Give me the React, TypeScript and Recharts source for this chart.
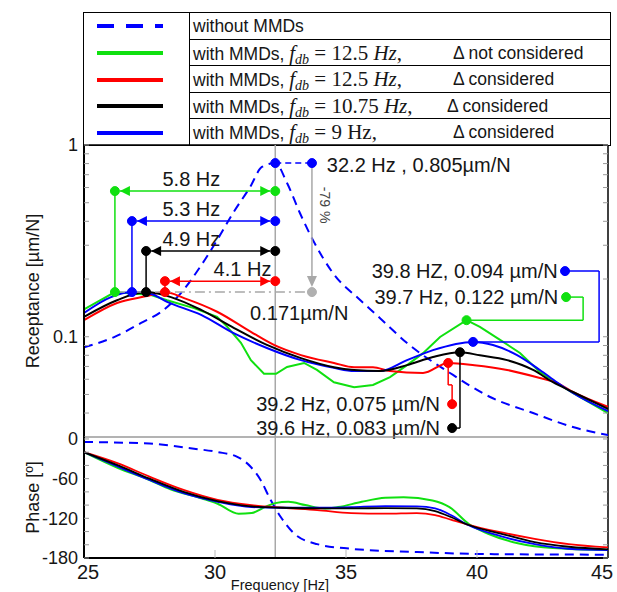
import {
  LineChart,
  Line,
  XAxis,
  YAxis,
  ReferenceLine,
  ReferenceDot,
} from "recharts";

const SANS = "'Liberation Sans', Arial, Helvetica, sans-serif";
const SERIF = "'Liberation Serif', 'Times New Roman', serif";

const BLUE = "#0000ff";
const GREEN = "#10e010";
const RED = "#ff0000";
const BLACK = "#000000";
const GREY = "#a8a8a8";
const INK = "#161616";

// ---- receptance [µm/N] vs frequency [Hz] ----
const recNoneF = [25, 26.15, 27.18, 27.98, 28.7, 29.43, 30.08, 30.69, 31.34, 31.79, 32.3, 32.75, 33.24, 33.74, 34.5, 35.55, 36.3, 37.33, 38.97, 40.5, 42.14, 43.66, 45];
const recNone = [0.088, 0.0996, 0.118, 0.136, 0.169, 0.231, 0.319, 0.442, 0.604, 0.768, 0.805, 0.634, 0.442, 0.319, 0.215, 0.155, 0.125, 0.0927, 0.0647, 0.0485, 0.04, 0.0338, 0.0307];

const recGreenF = [25, 26.18, 27.56, 28.17, 29.2, 30.08, 30.46, 30.99, 31.37, 31.87, 32.33, 32.75, 33.4, 33.89, 34.54, 35.31, 36.03, 36.68, 37.33, 37.94, 38.59, 39.6, 40.11, 40.88, 41.64, 42.4, 43.05, 43.66, 45];
const recGreen = [0.139, 0.171, 0.165, 0.155, 0.141, 0.127, 0.113, 0.0929, 0.0755, 0.0641, 0.0641, 0.0696, 0.073, 0.0671, 0.0579, 0.0546, 0.056, 0.0616, 0.0711, 0.0821, 0.0997, 0.122, 0.1125, 0.0963, 0.0823, 0.0655, 0.0574, 0.0509, 0.04];

const recRedF = [25, 26.26, 27.4, 28.09, 28.82, 30.08, 31.37, 32.25, 33.28, 34.54, 35.31, 36.03, 36.68, 37.94, 38.9, 39.9, 41.15, 42.4, 43.05, 43.66, 45];
const recRed = [0.122, 0.15, 0.163, 0.171, 0.159, 0.135, 0.106, 0.0906, 0.0802, 0.073, 0.0694, 0.0694, 0.0662, 0.0647, 0.073, 0.0711, 0.0671, 0.0609, 0.0574, 0.0515, 0.0431];

const recBlackF = [25, 26.26, 27.37, 28.32, 29.47, 30.73, 31.98, 33.28, 34.54, 35.31, 36.3, 37.33, 38.32, 39.35, 40.11, 41.15, 42.14, 42.9, 43.66, 45];
const recBlack = [0.127, 0.155, 0.171, 0.161, 0.138, 0.111, 0.0906, 0.0774, 0.0694, 0.0671, 0.0662, 0.0711, 0.0784, 0.083, 0.08, 0.0755, 0.0671, 0.0579, 0.0515, 0.0421];

const recBlueF = [25, 26.03, 26.83, 27.56, 28.17, 29.47, 30.73, 31.98, 33.28, 34.54, 35.31, 36.3, 37.33, 38.32, 39.85, 40.61, 41.53, 42.4, 43.05, 43.66, 45];
const recBlue = [0.133, 0.161, 0.171, 0.167, 0.152, 0.13, 0.104, 0.0874, 0.0755, 0.0688, 0.0662, 0.0662, 0.0755, 0.0852, 0.094, 0.0906, 0.0802, 0.0671, 0.0579, 0.0509, 0.041];

// ---- phase [deg] vs frequency [Hz] ----
const phNoneF = [25, 27.5, 29.2, 30.1, 30.85, 31.36, 31.74, 32.12, 32.51, 33.02, 33.9, 35.18, 37.72, 40.27, 45];
const phNone = [-4.5, -7, -14.7, -19.7, -27, -42, -62, -92, -118, -143, -159, -166, -171, -174, -175];

const phF = [25, 26.3, 27.5, 28.8, 30.1, 31.4, 32.6, 33.9, 35.2, 36.5, 37.7, 38.4, 39.0, 39.6, 40.9, 42.2, 43.5, 45];
const phRed = [-20, -37, -57, -77, -92, -100, -104, -107.5, -112, -113, -112, -115, -122, -129, -141, -151, -159, -164];
const phBlack = [-20, -40, -60, -80, -94, -102, -104, -105, -105, -104.5, -105, -109, -118, -129, -143, -156, -163, -167];
const phBlue = [-20, -42, -62, -82, -95, -103, -104, -104, -103, -101.5, -102, -105, -115, -129, -147, -159, -166, -168];

const phGreenF = [25, 26.3, 27.5, 28.3, 29.5, 30.1, 30.9, 31.4, 31.9, 32.3, 32.8, 33.45, 34.2, 34.7, 35.6, 36.5, 37.2, 38.3, 38.95, 39.7, 40.4, 41.6, 42.9, 45];
const phGreen = [-20, -44, -62, -76, -90, -98, -113, -112, -103, -97, -95, -100, -105, -103, -95, -89, -88, -93, -103, -129, -143, -158, -165, -168];

// ---- annotations ----
const resFreq = 32.3;
const resPeak = 0.805;
const resNoteF = 33.7;
const peakRec = 0.171;
const shiftFreqs = [26.18, 26.83, 27.37, 28.09]; // green, blue, black, red
const shiftLevels = [0.575, 0.401, 0.28, 0.195];
const shiftLabels = ["5.8 Hz", "5.3 Hz", "4.9 Hz", "4.1 Hz"];
const shiftLabelF = [29.1, 29.1, 29.1, 31.05];
const shiftColors = [GREEN, BLUE, BLACK, RED];

const logTicks = [0.04, 0.05, 0.06, 0.07, 0.08, 0.09, 0.1, 0.2, 0.3, 0.4, 0.5, 0.6, 0.7, 0.8, 0.9, 1];
const recLabels: Record<number, string> = { 0.1: "0.1", 1: "1" };
const phaseTicks = [-180, -160, -140, -120, -100, -80, -60, -40, -20, 0];
const phaseLabels: Record<number, string> = { 0: "0", [-60]: "-60", [-120]: "-120", [-180]: "-180" };
const freqTicks = [25, 30, 35, 40, 45];
const innerFreqTicks = [30, 35, 40];

const legendItems = [
  { color: BLUE, dashed: true },
  { color: GREEN, dashed: false },
  { color: RED, dashed: false },
  { color: BLACK, dashed: false },
  { color: BLUE, dashed: false },
];

const zip = (f: number[], v: number[]) => f.map((x, i) => ({ f: x, v: v[i] }));

const leftTick = (labels: Record<number, string>) => (p: any) => {
  const lab = labels[p.payload.value];
  return (
    <g>
      <line x1={p.x + 6} x2={p.x + 11} y1={p.y} y2={p.y} stroke="#9a9a9a" />
      {lab !== undefined && (
        <text x={p.x} y={p.y} dy="0.35em" textAnchor="end" fontSize={18} fontFamily={SANS} fill={INK}>
          {lab}
        </text>
      )}
    </g>
  );
};
const rightTick = (p: any) => <line x1={p.x - 5} x2={p.x} y1={p.y} y2={p.y} stroke="#9a9a9a" />;
const upTick = (p: any) => <line x1={p.x} x2={p.x} y1={p.y} y2={p.y - 8} stroke="#bbb" />;
const downTick = (p: any) => <line x1={p.x} x2={p.x} y1={p.y} y2={p.y + 8} stroke="#bbb" />;
const freqTick = (p: any) => {
  const v = p.payload.value;
  const shift = v === 25 ? 4 : v === 45 ? -6 : 0;
  return (
    <g>
      {v > 25 && v < 45 && <line x1={p.x} x2={p.x} y1={p.y} y2={p.y - 8} stroke="#bbb" />}
      <text x={p.x + shift} y={p.y + 7} dy="0.71em" textAnchor="middle" fontSize={20} fontFamily={SANS} fill={INK}>
        {v}
      </text>
    </g>
  );
};

const yTitle = (text: string) => (p: any) => {
  const vb = p.viewBox || { x: 0, y: 0, width: 84, height: 100 };
  const cx = vb.x + 33;
  const cy = vb.y + vb.height / 2;
  return (
    <text x={cx} y={cy} transform={`rotate(-90 ${cx} ${cy})`} textAnchor="middle" dominantBaseline="central" fontSize={18} fontFamily={SANS} fill={INK}>
      {text}
    </text>
  );
};
const xTitle = (p: any) => {
  const vb = p.viewBox || { x: 84, y: 0 };
  return (
    <text x={vb.x + 196} y={vb.y + 32} textAnchor="middle" fontSize={14.5} fontFamily={SANS} fill={INK}>
      Frequency [Hz]
    </text>
  );
};

const seg = (key: string, a: number[], b: number[], color: string, extra: any = {}) => (
  <ReferenceLine
    key={key}
    segment={[{ x: a[0], y: a[1] }, { x: b[0], y: b[1] }]}
    stroke={color}
    strokeWidth={1.5}
    ifOverflow="visible"
    {...extra}
  />
);
const dot = (key: string, f: number, v: number, color: string) => (
  <ReferenceDot key={key} x={f} y={v} r={4.5} fill={color} stroke={color} ifOverflow="visible" />
);
const note = (key: string, f: number, v: number, s: string, anchor = "start", size = 20, color = INK, rot = 0) => (
  <ReferenceDot
    key={key}
    x={f}
    y={v}
    r={0}
    ifOverflow="visible"
    shape={(p: any) => (
      <text
        x={p.cx}
        y={p.cy}
        dy="0.35em"
        textAnchor={anchor}
        fontSize={size}
        fontFamily={SANS}
        fill={color}
        transform={rot ? `rotate(${rot} ${p.cx} ${p.cy})` : undefined}
      >
        {s}
      </text>
    )}
  />
);
const dblArrow = (color: string) => (p: any) => {
  const a = Math.min(p.x1, p.x2) + 5;
  const b = Math.max(p.x1, p.x2) - 5;
  const y = p.y1;
  return (
    <g>
      <line x1={a} y1={y} x2={b} y2={y} stroke={color} strokeWidth={1.5} />
      <path d={`M${a},${y} l10,-5 l0,10 z`} fill={color} />
      <path d={`M${b},${y} l-10,-5 l0,10 z`} fill={color} />
    </g>
  );
};
const downArrow = (color: string) => (p: any) => {
  const top = Math.min(p.y1, p.y2);
  const bot = Math.max(p.y1, p.y2) - 5;
  return (
    <g>
      <line x1={p.x1} x2={p.x1} y1={top} y2={bot - 8} stroke={color} strokeWidth={1.5} />
      <path d={`M${p.x1},${bot} l-5,-11 l10,0 z`} fill={color} />
    </g>
  );
};

function Fdb() {
  return (
    <span style={{ fontFamily: SERIF, fontStyle: "italic", fontSize: 21 }}>
      f<span style={{ fontSize: 14, position: "relative", top: 4 }}>db</span>
    </span>
  );
}

function Legend() {
  const rowH = 133 / 5;
  const serif = { fontFamily: SERIF, fontSize: 21 };
  const delta = (s: string, left = 263) => <span style={{ position: "absolute", left }}>{s}</span>;
  const texts = [
    <span>without MMDs</span>,
    <span>
      with MMDs, <Fdb /><span style={serif}> = 12.5 <i>Hz</i>,</span>
      {delta("Δ not considered")}
    </span>,
    <span>
      with MMDs, <Fdb /><span style={serif}> = 12.5 <i>Hz</i>,</span>
      {delta("Δ considered")}
    </span>,
    <span>
      with MMDs, <Fdb /><span style={serif}> = 10.75 <i>Hz</i>,</span>
      {delta("Δ considered", 257)}
    </span>,
    <span>
      with MMDs, <Fdb /><span style={serif}> = 9 Hz,</span>
      {delta("Δ considered")}
    </span>,
  ];
  return (
    <div
      style={{
        position: "absolute",
        left: 83,
        top: 12,
        width: 528,
        height: 134,
        border: "1.5px solid #000",
        boxSizing: "border-box",
        display: "flex",
        fontFamily: SANS,
        fontSize: 17.5,
        color: INK,
        background: "#fff",
      }}
    >
      <div style={{ width: 105, borderRight: "1.5px solid #000", position: "relative" }}>
        {legendItems.map((it, i) => (
          <svg key={i} width={66} height={6} style={{ position: "absolute", left: 13, top: i * rowH + rowH / 2 - 3 }}>
            <line x1={0} x2={66} y1={3} y2={3} stroke={it.color} strokeWidth={4} strokeDasharray={it.dashed ? "17 12" : undefined} />
          </svg>
        ))}
      </div>
      <div style={{ flex: 1 }}>
        {texts.map((t, i) => (
          <div
            key={i}
            style={{
              position: "relative",
              height: rowH,
              lineHeight: rowH + "px",
              paddingLeft: 3,
              boxSizing: "border-box",
              whiteSpace: "nowrap",
              borderBottom: i < 4 ? "1.5px solid #000" : "none",
            }}
          >
            {t}
          </div>
        ))}
      </div>
    </div>
  );
}

export default function App() {
  const shifts = shiftFreqs.flatMap((f, i) => {
    const c = shiftColors[i];
    const lv = shiftLevels[i];
    return [
      seg("sv" + i, [f, peakRec], [f, lv], c),
      seg("sh" + i, [f, lv], [resFreq, lv], c, { shape: dblArrow(c) }),
      dot("sd0" + i, f, peakRec, c),
      dot("sd1" + i, f, lv, c),
      dot("sd2" + i, resFreq, lv, c),
      note("sl" + i, shiftLabelF[i], lv * 1.155, shiftLabels[i], "middle"),
    ];
  });

  return (
    <div style={{ position: "absolute", left: 0, top: 0, width: 617, height: 592, background: "#fff", overflow: "hidden" }}>
      <Legend />

      <div style={{ position: "absolute", left: 0, top: 135 }}>
        <LineChart width={617} height={310} margin={{ top: 10, right: 8, bottom: 8, left: 0 }}>
          <XAxis type="number" dataKey="f" domain={[25, 45]} allowDataOverflow ticks={innerFreqTicks} interval={0} height={0} axisLine={false} tickLine={false} tickSize={0} tickMargin={0} tick={upTick} />
          <XAxis xAxisId="top" orientation="top" type="number" dataKey="f" domain={[25, 45]} allowDataOverflow ticks={innerFreqTicks} interval={0} height={0} axisLine={false} tickLine={false} tickSize={0} tickMargin={0} tick={downTick} />
          <YAxis type="number" scale="log" domain={[0.03, 1]} allowDataOverflow ticks={logTicks} interval={0} width={84} axisLine={{ stroke: "#000", strokeWidth: 2 }} tickLine={false} tickSize={0} tickMargin={6} tick={leftTick(recLabels)} label={yTitle("Receptance [µm/N]")} />
          <YAxis yAxisId="r" orientation="right" type="number" scale="log" domain={[0.03, 1]} allowDataOverflow ticks={logTicks} interval={0} width={1} axisLine={false} tickLine={false} tickSize={0} tickMargin={0} tick={rightTick} />

          <ReferenceLine y={1} stroke="#000" strokeWidth={1.5} ifOverflow="visible" />
          <ReferenceLine x={45} stroke="#000" strokeWidth={1.5} ifOverflow="visible" />
          <ReferenceLine y={0.03} stroke="#999" strokeWidth={1.2} ifOverflow="visible" />
          <ReferenceLine x={resFreq} stroke={GREY} strokeWidth={1.5} />

          <Line data={zip(recNoneF, recNone)} dataKey="v" type="monotone" stroke={BLUE} strokeWidth={2} strokeDasharray="9 6" dot={false} isAnimationActive={false} />
          <Line data={zip(recGreenF, recGreen)} dataKey="v" type="linear" stroke={GREEN} strokeWidth={2} dot={false} isAnimationActive={false} />
          <Line data={zip(recRedF, recRed)} dataKey="v" type="monotone" stroke={RED} strokeWidth={2} dot={false} isAnimationActive={false} />
          <Line data={zip(recBlueF, recBlue)} dataKey="v" type="monotone" stroke={BLUE} strokeWidth={2} dot={false} isAnimationActive={false} />
          <Line data={zip(recBlackF, recBlack)} dataKey="v" type="monotone" stroke={BLACK} strokeWidth={2} dot={false} isAnimationActive={false} />

          {/* peak shift arrows */}
          {seg("gh", [shiftFreqs[0], peakRec], [resNoteF, peakRec], GREY, { strokeDasharray: "10 4 2 4" })}
          {shifts}

          {/* resonance reduction */}
          {seg("rp", [resFreq, resPeak], [resNoteF, resPeak], BLUE, { strokeDasharray: "6 4" })}
          {dot("rp0", resFreq, resPeak, BLUE)}
          {seg("ra", [resNoteF, resPeak], [resNoteF, peakRec], GREY, { shape: downArrow(GREY) })}
          {dot("rp1", resNoteF, resPeak, BLUE)}
          {dot("rp2", resNoteF, peakRec, "#b0b0b0")}
          {note("rt", 34.27, 0.79, "32.2 Hz , 0.805µm/N")}
          {note("r79", 34.2, 0.486, "-79 %", "middle", 14, "#444", 90)}
          {note("r171", 31.34, 0.133, "0.171µm/N")}

          {/* second peak notes */}
          {seg("b1", [43.36, 0.22], [44.66, 0.22], BLUE)}
          {seg("b2", [44.66, 0.22], [44.66, 0.094], BLUE)}
          {seg("b3", [44.66, 0.094], [39.85, 0.094], BLUE)}
          {dot("bd0", 43.36, 0.22, BLUE)}
          {dot("bd1", 39.85, 0.094, BLUE)}
          {note("bt", 43.08, 0.22, "39.8 HZ, 0.094 µm/N", "end")}

          {seg("g1", [43.4, 0.161], [44.05, 0.161], GREEN)}
          {seg("g2", [44.05, 0.161], [44.05, 0.122], GREEN)}
          {seg("g3", [44.05, 0.122], [39.6, 0.122], GREEN)}
          {dot("gd0", 43.4, 0.161, GREEN)}
          {dot("gd1", 39.6, 0.122, GREEN)}
          {note("gt", 43.1, 0.161, "39.7 Hz, 0.122 µm/N", "end")}

          {seg("r1", [39.05, 0.0445], [39.05, 0.0561], RED)}
          {seg("r2", [39.05, 0.0561], [38.9, 0.0561], RED)}
          {seg("r3", [38.9, 0.0561], [38.9, 0.073], RED)}
          {dot("rd0", 39.05, 0.0445, RED)}
          {dot("rd1", 38.9, 0.073, RED)}
          {note("rtx", 38.59, 0.0445, "39.2 Hz, 0.075 µm/N", "end")}

          {seg("k1", [39.05, 0.0334], [39.35, 0.0334], BLACK)}
          {seg("k2", [39.35, 0.0334], [39.35, 0.083], BLACK)}
          {dot("kd0", 39.05, 0.0334, BLACK)}
          {dot("kd1", 39.35, 0.083, BLACK)}
          {note("ktx", 38.59, 0.0334, "39.6 Hz, 0.083 µm/N", "end")}
        </LineChart>
      </div>

      <div style={{ position: "absolute", left: 0, top: 420 }}>
        <LineChart width={617} height={172} margin={{ top: 17, right: 8, bottom: 0, left: 0 }}>
          <XAxis type="number" dataKey="f" domain={[25, 45]} allowDataOverflow ticks={freqTicks} interval={0} height={34} axisLine={{ stroke: "#000", strokeWidth: 2 }} tickLine={false} tickSize={0} tickMargin={0} tick={freqTick} label={xTitle} />
          <XAxis xAxisId="top" orientation="top" type="number" dataKey="f" domain={[25, 45]} allowDataOverflow ticks={innerFreqTicks} interval={0} height={0} axisLine={false} tickLine={false} tickSize={0} tickMargin={0} tick={downTick} />
          <YAxis type="number" domain={[-180, 3]} allowDataOverflow ticks={phaseTicks} interval={0} width={84} axisLine={{ stroke: "#000", strokeWidth: 2 }} tickLine={false} tickSize={0} tickMargin={6} tick={leftTick(phaseLabels)} label={yTitle("Phase [º]")} />
          <YAxis yAxisId="r" orientation="right" type="number" domain={[-180, 3]} allowDataOverflow ticks={phaseTicks} interval={0} width={1} axisLine={false} tickLine={false} tickSize={0} tickMargin={0} tick={rightTick} />

          <ReferenceLine y={3} stroke="#999" strokeWidth={1.2} ifOverflow="visible" />
          <ReferenceLine x={45} stroke="#000" strokeWidth={1.5} ifOverflow="visible" />
          <ReferenceLine x={resFreq} stroke={GREY} strokeWidth={1.5} />

          <Line data={zip(phNoneF, phNone)} dataKey="v" type="monotone" stroke={BLUE} strokeWidth={2} strokeDasharray="9 6" dot={false} isAnimationActive={false} />
          <Line data={zip(phGreenF, phGreen)} dataKey="v" type="monotone" stroke={GREEN} strokeWidth={2} dot={false} isAnimationActive={false} />
          <Line data={zip(phF, phRed)} dataKey="v" type="monotone" stroke={RED} strokeWidth={1.8} dot={false} isAnimationActive={false} />
          <Line data={zip(phF, phBlue)} dataKey="v" type="monotone" stroke={BLUE} strokeWidth={1.8} dot={false} isAnimationActive={false} />
          <Line data={zip(phF, phBlack)} dataKey="v" type="monotone" stroke={BLACK} strokeWidth={1.8} dot={false} isAnimationActive={false} />
        </LineChart>
      </div>
    </div>
  );
}
